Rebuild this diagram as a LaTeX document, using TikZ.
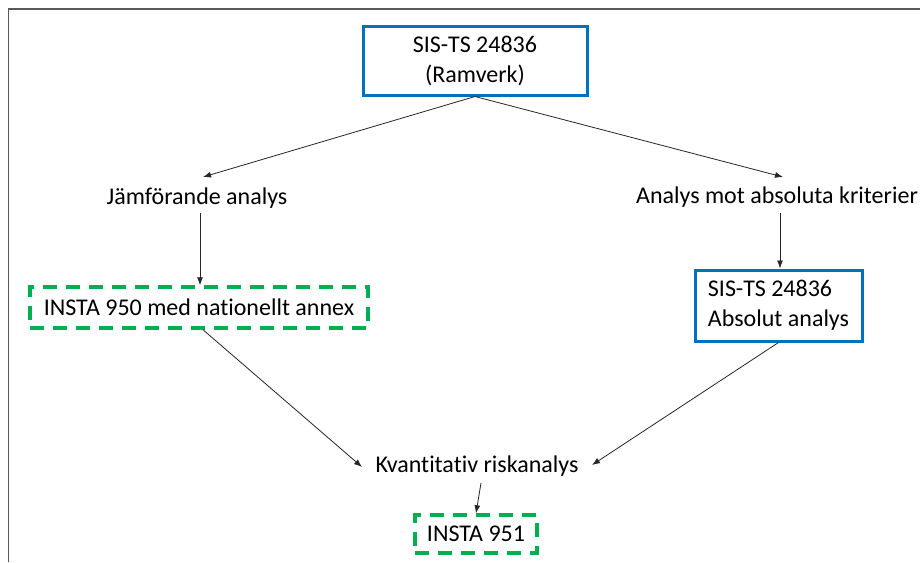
\documentclass[tikz,border=0pt]{standalone}
\usepackage{fontspec}
\setmainfont[Ligatures=NoCommon]{Carlito}
\usetikzlibrary{arrows.meta}
\definecolor{boxblue}{RGB}{0,112,192}
\definecolor{boxgreen}{RGB}{0,176,80}
\begin{document}
\begin{tikzpicture}[x=1pt,y=-1pt,
  every node/.style={font=\fontsize{24}{30}\selectfont, inner sep=0pt},
  bluebox/.style={draw=boxblue, line width=3pt},
  greenbox/.style={draw=boxgreen, line width=3.5pt, dash pattern=on 14pt off 9pt},
  link/.style={-{Latex[length=8pt,width=6pt]}, line width=0.8pt, black!85}]
  \useasboundingbox (0,0) rectangle (920,562);
  \fill[white] (0,0) rectangle (920,562);
  % outer frame (top and left edges)
  \draw[line width=1.2pt, black!65] (920,9) -- (8.5,9) -- (8.5,562);

  % nodes
  \node[bluebox, minimum width=224pt, minimum height=69pt, align=center] (top) at (475,60.5)
    {SIS-TS 24836\\(Ramverk)};
  \node (cmp) at (197,198) {Jämförande analys};
  \node (abs) at (777,197) {Analys mot absoluta kriterier};
  \node[greenbox, minimum width=338pt, minimum height=41pt] (i950) at (199,307.5)
    {INSTA 950 med nationellt annex};
  \node[bluebox, minimum width=167pt, minimum height=71pt, align=left] (sabs) at (778.5,305.5)
    {SIS-TS 24836\\Absolut analys};
  \node (kva) at (477,466) {Kvantitativ riskanalys};
  \node[greenbox, minimum width=122pt, minimum height=38pt] (i951) at (476,534)
    {INSTA 951};

  % connectors
  \coordinate (cmpT) at (203,177);
  \coordinate (absT) at (783,177);
  \draw[link] (top.south) -- (cmpT);
  \draw[link] (top.south) -- (absT);
  \draw[link] (200,213) -- (i950.north -| 200,0);
  \draw[link] (780,213) -- (sabs.north -| 780,0);
  \draw[link] (i950.south -| 203,0) -- (362,467);
  \draw[link] (sabs.south) -- (592,465);
  \draw[link] (481,483) -- (i951.north);
\end{tikzpicture}
\end{document}
